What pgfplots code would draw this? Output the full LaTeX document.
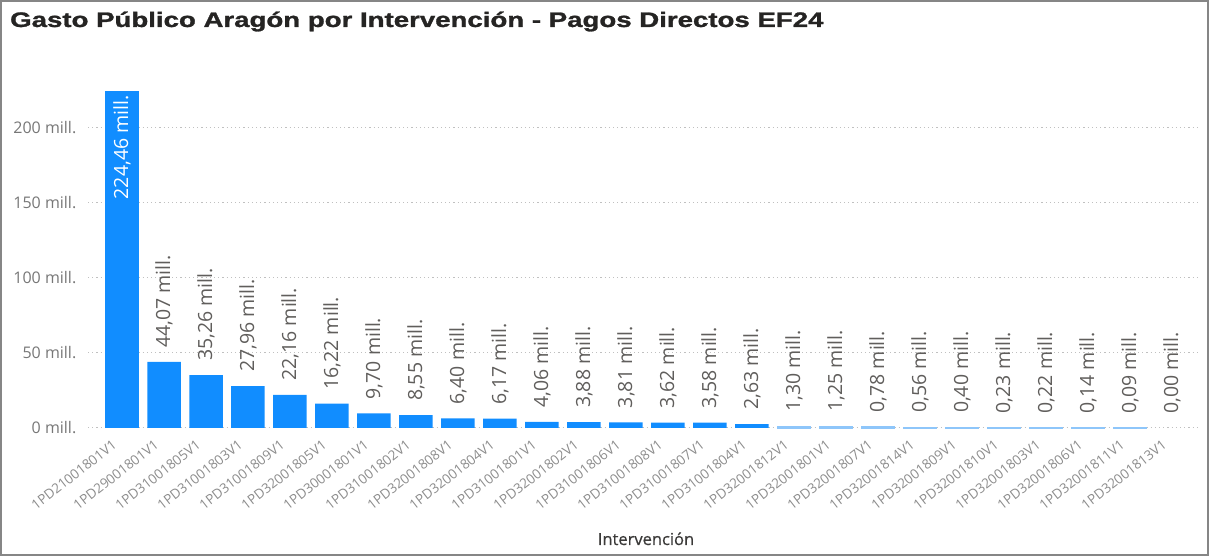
\documentclass[border=0pt]{standalone}
\usepackage{pgfplots}
\pgfplotsset{compat=1.18}
\usepackage{graphicx}
\usepackage{fontspec}
\setmainfont{Open Sans}
\newfontfamily\titlefont{Liberation Sans}[BoldFeatures={FakeBold=1.2}]
\newfontfamily\semifont{Open Sans}[FakeBold=0.6]
\definecolor{barblue}{HTML}{118DFF}
\definecolor{lightbar}{HTML}{8EC6FA}
\definecolor{titlecol}{HTML}{252423}
\definecolor{lblcol}{HTML}{605E5C}
\definecolor{tickcol}{HTML}{777777}
\definecolor{xtickcol}{HTML}{8C8C8C}
\definecolor{gridcol}{HTML}{C0C0C0}
\begin{document}
\begin{tikzpicture}[x=1bp,y=1bp]
\useasboundingbox (0,0) rectangle (1209,556);
\draw[line width=2bp, color=gray!95] (1,1) rectangle (1208,555);
\node[anchor=base west, inner sep=0pt, text=titlecol] at (10,529)
  {\scalebox{1.315}[1]{\titlefont\bfseries\fontsize{21bp}{24bp}\selectfont Gasto Público Aragón por Intervención - Pagos Directos EF24}};
\begin{axis}[
  at={(88bp,128bp)}, anchor=south west,
  scale only axis, width=1112bp, height=352.5bp,
  xmin=-0.81, xmax=25.67, ymin=0, ymax=235,
  clip=false,
  axis line style={draw=none},
  tick style={draw=none},
  major tick length=0pt,
  ymajorgrids,
  major grid style={color=gridcol, line width=1bp, dash pattern=on 1.2bp off 3bp},
  ytick={0,50,100,150,200},
  yticklabels={0 mill.,50 mill.,100 mill.,150 mill.,200 mill.},
  yticklabel style={anchor=east, inner sep=0pt, xshift=-11.5bp, text=tickcol, font=\fontsize{16bp}{19bp}\selectfont},
  xtick={0,...,25},
  xticklabels={1PD21001801V1,1PD29001801V1,1PD31001805V1,1PD31001803V1,1PD31001809V1,1PD32001805V1,1PD30001801V1,1PD31001802V1,1PD32001808V1,1PD32001804V1,1PD31001801V1,1PD32001802V1,1PD31001806V1,1PD31001808V1,1PD31001807V1,1PD31001804V1,1PD32001812V1,1PD32001801V1,1PD32001807V1,1PD32001814V1,1PD32001809V1,1PD32001810V1,1PD32001803V1,1PD32001806V1,1PD32001811V1,1PD32001813V1},
  xticklabel style={xshift=-10.5bp, yshift=-11bp, rotate=38, anchor=north east, inner sep=0pt, text=xtickcol, font=\fontsize{13.5bp}{15bp}\selectfont},
  ybar, bar width=33.5bp,
  nodes near coords={\pgfmathprintnumber[fixed,fixed zerofill,precision=2,use comma,assume math mode=true]{\pgfplotspointmeta} mill.},
  every node near coord/.style={yshift=14bp, rotate=90, anchor=west, inner sep=0pt, text=lblcol, font=\fontsize{19.5bp}{22bp}\selectfont},
]
\addplot[bar shift=0pt, fill=barblue, draw=none,
  every node near coord/.style={yshift=-4bp, rotate=90, anchor=east, inner sep=0pt, text=white, font=\fontsize{19.5bp}{22bp}\selectfont}]
  coordinates {(0,224.46)};
\addplot[bar shift=0pt, fill=barblue, draw=none] coordinates {
  (1,44.07) (2,35.26) (3,27.96) (4,22.16) (5,16.22) (6,9.70) (7,8.55)
  (8,6.40) (9,6.17) (10,4.06) (11,3.88) (12,3.81) (13,3.62) (14,3.58) (15,2.63)};
\addplot[bar shift=0pt, fill=lightbar, draw=lightbar, line width=0.8bp] coordinates {
  (16,1.30) (17,1.25) (18,0.78) (19,0.56) (20,0.40) (21,0.23) (22,0.22) (23,0.14) (24,0.09)};
\addplot[bar shift=0pt, fill=none, draw=none] coordinates {(25,0.00)};
\end{axis}
\node[anchor=base, inner sep=0pt, text=titlecol!90] at (646,11)
  {\semifont\fontsize{16.5bp}{19bp}\selectfont Intervención};
\end{tikzpicture}
\end{document}
